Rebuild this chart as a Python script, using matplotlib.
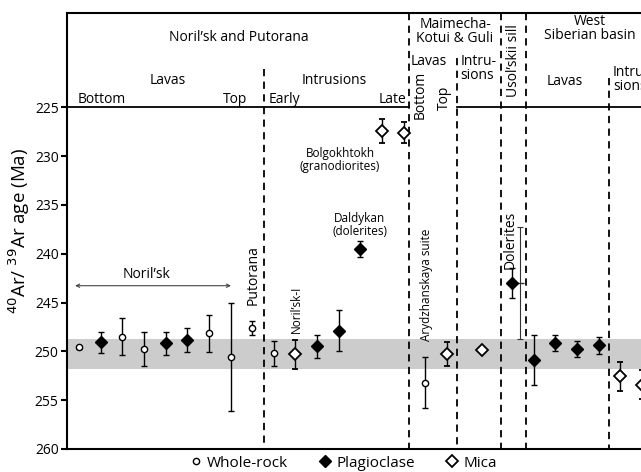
import matplotlib.pyplot as plt
from matplotlib.lines import Line2D

plt.rcParams['font.family'] = ['Open Sans', 'DejaVu Sans']

# sample slots along the x axis and 40Ar/39Ar ages (Ma) with 2-sigma errors
wr_x = [0, 2, 3, 6, 7, 8, 9, 16]
wr_age = [249.6, 248.5, 249.75, 248.15, 250.56, 247.6, 250.2, 253.2]
wr_err = [0.15, 1.9, 1.72, 1.9, 5.5, 0.7, 1.25, 2.6]

pl_x = [1, 4, 5, 11, 12, 13, 20, 21, 22, 23, 24]
pl_age = [249.07, 249.17, 248.86, 249.48, 247.9, 239.5, 243.0, 250.84, 249.13, 249.75, 249.38]
pl_err = [1.1, 1.2, 1.23, 1.2, 2.1, 0.82, 1.5, 2.57, 0.78, 0.82, 0.84]

mi_x = [10, 14, 15, 17, 18.6, 25, 26]
mi_age = [250.3, 227.4, 227.6, 250.26, 249.85, 252.55, 253.4]
mi_err = [1.5, 1.2, 1.1, 1.2, 0.0, 1.48, 1.5]

# Usol'skii dolerites: wider total uncertainty bar
us_x = [20.37]
us_age = [243.0]
us_err = [5.76]

band = (248.7, 251.8)
yticks = [225, 230, 235, 240, 245, 250, 255, 260]

fig = plt.figure(figsize=(6.41, 4.72), dpi=100)
ax = fig.add_axes([67 / 641, 23 / 472, 0.9306, 436 / 472])
ax.set_xlim(-0.554, 27)
ax.set_ylim(260, 215.33)

ax.axhspan(*band, color='#cccccc', lw=0, zorder=0)

# section boundaries
dash = (0, (4, 3))
for x, top in [(8.55, 221.08), (15.24, 215.33), (17.46, 219.96),
               (19.49, 215.33), (20.65, 215.33), (24.48, 222.0)]:
    ax.plot([x, x], [top, 260], color='k', lw=1.3, ls=dash, zorder=1)
ax.plot([-0.554, 15.24], [225, 225], color='k', lw=1.3, zorder=1)
ax.plot([17.46, 27], [225, 225], color='k', lw=1.3, zorder=1)

eb = dict(ecolor='k', elinewidth=1, capsize=2.5, capthick=1, ls='none', zorder=3)
ax.errorbar(us_x, us_age, yerr=us_err, fmt='_', color='#333333', ms=6,
            ecolor='#333333', elinewidth=0.8, capsize=2.5, capthick=0.8, zorder=2)
ax.errorbar(wr_x, wr_age, yerr=wr_err, fmt='o', ms=4.5, mfc='white', mec='k', mew=1, **eb)
ax.errorbar(pl_x, pl_age, yerr=pl_err, fmt='D', ms=6.5, mfc='k', mec='k', **eb)
ax.errorbar(mi_x, mi_age, yerr=mi_err, fmt='D', ms=6.5, mfc='white', mec='k', mew=1.3, **eb)

ax.spines['right'].set_visible(False)
for s in ['left', 'bottom', 'top']:
    ax.spines[s].set_linewidth(1.5)
ax.set_xticks([])
ax.set_yticks(yticks)
ax.tick_params(axis='y', length=4, width=1.5, labelsize=10, pad=2)
ax.set_ylabel(r'$^{40}$Ar/ $^{39}$Ar age (Ma)', fontsize=13.5, labelpad=2)

fs = 10
ax.text(7.39, 217.81, 'Noril’sk and Putorana', ha='center', va='center', fontsize=fs)
ax.text(4.11, 222.21, 'Lavas', ha='center', va='center', fontsize=fs)
ax.text(-0.05, 224.15, 'Bottom', ha='left', va='center', fontsize=fs)
ax.text(7.23, 224.15, 'Top', ha='center', va='center', fontsize=fs)
ax.text(8.78, 224.15, 'Early', ha='left', va='center', fontsize=fs)
ax.text(11.78, 222.21, 'Intrusions', ha='center', va='center', fontsize=fs)
ax.text(15.1, 224.15, 'Late', ha='right', va='center', fontsize=fs)
ax.text(17.37, 217.2, 'Maimecha-\nKotui & Guli', ha='center', va='center', fontsize=fs,
        linespacing=0.95)
ax.text(15.33, 220.27, 'Lavas', ha='left', va='center', fontsize=fs)
ax.text(17.62, 221.03, 'Intru-\nsions', ha='left', va='center', fontsize=fs, linespacing=0.95)
ax.text(15.75, 223.74, 'Bottom', ha='center', va='center', rotation=90, fontsize=fs)
ax.text(16.86, 224.05, 'Top', ha='center', va='center', rotation=90, fontsize=fs)
ax.text(20.06, 220.16, 'Usol’skii sill', ha='center', va='center', rotation=90, fontsize=fs)
ax.text(23.6, 216.9, 'West\nSiberian basin', ha='center', va='center', fontsize=fs,
        linespacing=0.95)
ax.text(22.45, 222.38, 'Lavas', ha='center', va='center', fontsize=fs)
ax.text(24.67, 222.14, 'Intru-\nsions', ha='left', va='center', fontsize=fs, linespacing=0.95)

ax.text(3.1, 242.15, 'Noril’sk', ha='center', va='center', fontsize=fs)
ax.annotate('', xy=(-0.18, 243.27), xytext=(7.02, 243.27),
            arrowprops=dict(arrowstyle='<->', color='#444444', lw=0.8,
                            shrinkA=0, shrinkB=0, mutation_scale=6))
ax.text(8.05, 242.15, 'Putorana', ha='center', va='center', rotation=90, fontsize=fs)
fs2 = 8.5
ax.text(10.06, 245.73, 'Noril’sk-I', ha='center', va='center', rotation=90, fontsize=fs2)
ax.text(12.06, 230.4, 'Bolgokhtokh\n(granodiorites)', ha='center', va='center', fontsize=fs2,
        linespacing=1.0)
ax.text(12.98, 237.0, 'Daldykan\n(dolerites)', ha='center', va='center', fontsize=fs2,
        linespacing=1.0)
ax.text(16.06, 243.2, 'Arydzhanskaya suite', ha='center', va='center', rotation=90,
        fontsize=fs2)
ax.text(19.9, 238.57, 'Dolerites', ha='center', va='center', rotation=90, fontsize=fs)

handles = [
    Line2D([], [], ls='none', marker='o', ms=4.5, mfc='white', mec='k', mew=1),
    Line2D([], [], ls='none', marker='D', ms=6.5, mfc='k', mec='k'),
    Line2D([], [], ls='none', marker='D', ms=6.5, mfc='white', mec='k', mew=1.3),
]
fig.legend(handles, ['Whole-rock', 'Plagioclase', 'Mica'], loc='center', ncol=3,
           bbox_to_anchor=(0.534, 0.019), frameon=False, fontsize=11,
           handletextpad=0.25, columnspacing=1.9, handlelength=1.0, borderpad=0)

fig.savefig('out.png', dpi=100)
